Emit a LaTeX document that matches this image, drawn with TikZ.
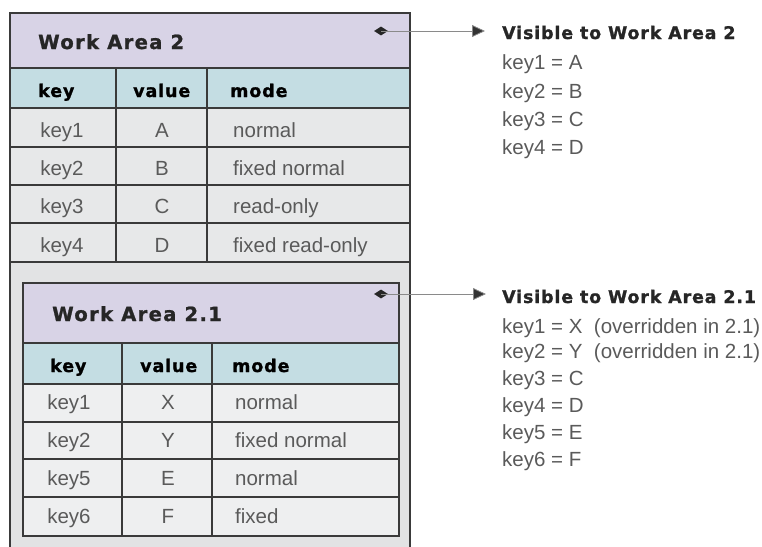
\documentclass[tikz,border=0pt]{standalone}
\usepackage{fontspec}
\setmainfont{Liberation Sans}
\newfontfamily\hdfont{DejaVu Sans}[LetterSpace=5,BoldFeatures={FakeBold=1.2}]
\definecolor{lav}{HTML}{D8D3E6}
\definecolor{hdblue}{HTML}{C4DDE3}
\definecolor{rowgray}{HTML}{E7E8E9}
\definecolor{bodygray}{HTML}{E2E3E4}
\definecolor{bord}{HTML}{3A3A3A}
\definecolor{txtgray}{HTML}{5A5A5A}
\definecolor{conn}{HTML}{8A8A8A}
\usetikzlibrary{shapes.geometric,arrows.meta}
\tikzset{
  x=1pt,y=-1pt,
  body/.style={font=\fontsize{20.5}{23}\selectfont, text=txtgray, inner sep=0pt, anchor=base},
  bodyw/.style={body, anchor=base west},
  colhd/.style={font=\hdfont\bfseries\fontsize{17.5}{20}\selectfont, text=black, inner sep=0pt, anchor=base west},
  titlehd/.style={font=\hdfont\bfseries\fontsize{19.5}{22}\selectfont\addfontfeature{LetterSpace=7}, text=black!85, inner sep=0pt, anchor=base west},
  vishd/.style={font=\hdfont\bfseries\fontsize{17.4}{20}\selectfont, text=black!85, inner sep=0pt, anchor=base west},
  gridline/.style={draw=bord, line width=1.3pt},
  edge/.style={draw=bord, line width=2pt},
  dmark/.style={fill=black!85, draw=none, diamond, minimum width=14pt, minimum height=9pt, inner sep=0pt},
  link/.style={draw=conn, line width=0.8pt, -{Triangle[length=13pt,width=12pt,fill=black!80]}},
}
\begin{document}
\begin{tikzpicture}
\useasboundingbox (0,0) rectangle (762,546);
% ---------- outer work area ----------
\fill[bodygray] (10,13) rectangle (410,550);
\fill[lav] (10,13) rectangle (410,68);
\fill[hdblue] (10,68) rectangle (410,108);
\fill[rowgray] (10,108) rectangle (410,262);
\foreach \yy in {68,108,147,185,223,262} \draw[gridline] (10,\yy) -- (410,\yy);
\foreach \xx in {116,207} \draw[gridline] (\xx,68) -- (\xx,262);
\draw[edge] (10,550) -- (10,13) -- (410,13) -- (410,550);
\node[titlehd] (t2) at (38,49) {Work Area 2};
\node[colhd] (h2k) at (38,97) {key};
\node[colhd] (h2v) at (133,97) {value};
\node[colhd] (h2m) at (230,97) {mode};
\node[body] (a1k) at (62,137) {key1};
\node[body] (a1v) at (162,137) {A};
\node[bodyw] (a1m) at (233,137) {normal};
\node[body] (a2k) at (62,175) {key2};
\node[body] (a2v) at (162,175) {B};
\node[bodyw] (a2m) at (233,175) {fixed normal};
\node[body] (a3k) at (62,213) {key3};
\node[body] (a3v) at (162,213) {C};
\node[bodyw] (a3m) at (233,213) {read-only};
\node[body] (a4k) at (62,252) {key4};
\node[body] (a4v) at (162,252) {D};
\node[bodyw] (a4m) at (233,252) {fixed read-only};
% ---------- inner work area ----------
\fill[lav] (23,283) rectangle (399,343);
\fill[hdblue] (23,343) rectangle (399,384);
\fill[rowgray!70!white] (23,384) rectangle (399,536);
\foreach \yy in {343,384,422,459,497} \draw[gridline] (23,\yy) -- (399,\yy);
\foreach \xx in {122,212} \draw[gridline] (\xx,343) -- (\xx,536);
\draw[edge] (23,283) rectangle (399,536);
\node[titlehd] (t21) at (52,321) {Work Area 2.1};
\node[colhd] (h21k) at (50,372) {key};
\node[colhd] (h21v) at (140,372) {value};
\node[colhd] (h21m) at (232,372) {mode};
\node[body] (b1k) at (69,409) {key1};
\node[body] (b1v) at (168,409) {X};
\node[bodyw] (b1m) at (235,409) {normal};
\node[body] (b2k) at (69,447) {key2};
\node[body] (b2v) at (168,447) {Y};
\node[bodyw] (b2m) at (235,447) {fixed normal};
\node[body] (b5k) at (69,485) {key5};
\node[body] (b5v) at (168,485) {E};
\node[bodyw] (b5m) at (235,485) {normal};
\node[body] (b6k) at (69,523) {key6};
\node[body] (b6v) at (168,523) {F};
\node[bodyw] (b6m) at (235,523) {fixed};
% ---------- connectors ----------
\node[dmark] (d2) at (381,31) {};
\coordinate (e2) at (485,31);
\draw[link] (d2.center) -- (e2);
\node[dmark] (d21) at (381,294) {};
\coordinate (e21) at (486,294);
\draw[link] (d21.center) -- (e21);
% ---------- visibility lists ----------
\node[vishd] (v2) at (502,39) {Visible to Work Area 2};
\node[bodyw] (v2a) at (502,69) {key1 = A};
\node[bodyw] (v2b) at (502,98) {key2 = B};
\node[bodyw] (v2c) at (502,126) {key3 = C};
\node[bodyw] (v2d) at (502,154) {key4 = D};
\node[vishd] (v21) at (502,303) {Visible to Work Area 2.1};
\node[bodyw] (v21a) at (502,333) {key1 = X\ \ (overridden in 2.1)};
\node[bodyw] (v21b) at (502,358) {key2 = Y\ \ (overridden in 2.1)};
\node[bodyw] (v21c) at (502,385) {key3 = C};
\node[bodyw] (v21d) at (502,412) {key4 = D};
\node[bodyw] (v21e) at (502,439) {key5 = E};
\node[bodyw] (v21f) at (502,466) {key6 = F};
\end{tikzpicture}
\end{document}
